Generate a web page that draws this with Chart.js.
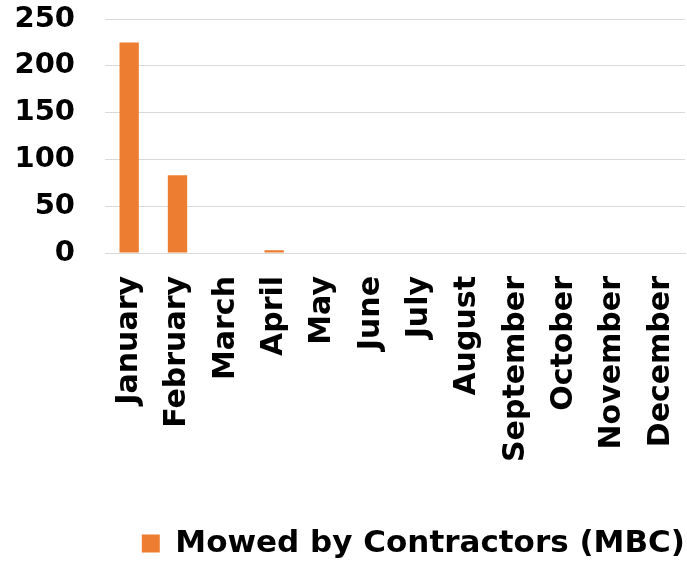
<!DOCTYPE html>
<html>
<head>
<meta charset="utf-8">
<script src="https://cdn.jsdelivr.net/npm/chart.js@4"></script>
<style>
  html, body { margin: 0; padding: 0; background: #fff; }
  #wrap { width: 687px; height: 563px; }
</style>
</head>
<body>
<div id="wrap"><canvas id="chart" width="687" height="563"></canvas></div>
<script>
// chart data
const months = ['January', 'February', 'March', 'April', 'May', 'June', 'July',
  'August', 'September', 'October', 'November', 'December'];
const mowedByContractors = [225, 83, 0, 3, 0, 0, 0, 0, 0, 0, 0, 0];
const yTicks = [0, 50, 100, 150, 200, 250];

const family = '"DejaVu Sans", Verdana, sans-serif';

new Chart(document.getElementById('chart').getContext('2d'), {
  type: 'bar',
  data: {
    labels: months,
    datasets: [{
      label: 'Mowed by Contractors (MBC)',
      data: mowedByContractors,
      backgroundColor: '#ED7D31',
      barPercentage: 0.4,
      categoryPercentage: 1
    }]
  },
  options: {
    responsive: false,
    animation: false,
    layout: { padding: { left: 0, right: 2, top: 19, bottom: -6 } },
    plugins: {
      tooltip: { enabled: false },
      legend: {
        position: 'bottom',
        align: 'end',
        labels: {
          color: '#000',
          font: { family: family, weight: 'bold', size: 31 },
          boxWidth: 18,
          boxHeight: 18,
          padding: 0
        }
      }
    },
    scales: {
      x: {
        grid: { display: false },
        border: { color: '#d9d9d9' },
        ticks: { color: '#000', font: { family: family, weight: 'bold', size: 30 }, minRotation: 90, maxRotation: 90, padding: 15 },
        afterFit: axis => {
          axis.height += 51;
          axis.paddingLeft = 0;
          axis.paddingRight = 0;
        }
      },
      y: {
        min: 0,
        max: 250,
        afterBuildTicks: axis => { axis.ticks = yTicks.map(v => ({ value: v })); },
        grid: { color: '#d9d9d9', drawTicks: false },
        border: { display: false },
        ticks: { color: '#000', font: { family: family, weight: 'bold', size: 29 }, padding: 30 },
        afterFit: axis => {
          axis.width = 105;
          axis.paddingTop = 0;
          axis.paddingBottom = 0;
        }
      }
    }
  }
});
</script>
</body>
</html>
